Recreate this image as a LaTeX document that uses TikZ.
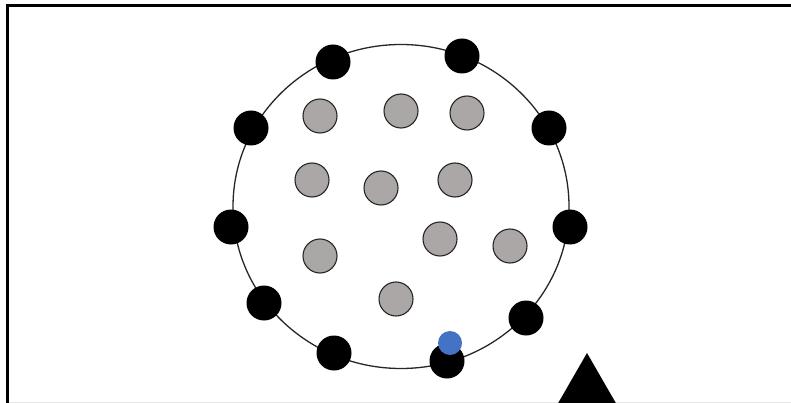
\documentclass[tikz,border=0pt]{standalone}
\usepackage{xcolor}
\usetikzlibrary{shapes.geometric}

\definecolor{beadgray}{RGB}{170,167,166}
\definecolor{beadblue}{RGB}{68,114,196}

\begin{document}
\begin{tikzpicture}[
    x=1pt, y=-1pt,
    frame/.style={draw=black, line width=3pt},
    ring/.style={ellipse, draw=black!85, line width=1.3pt, minimum width=336pt, minimum height=324pt, inner sep=0pt},
    outer/.style={circle, fill=black, minimum size=35pt, inner sep=0pt},
    inner/.style={circle, draw=black!85, line width=1.1pt, fill=beadgray, minimum size=34pt, inner sep=0pt},
    marker/.style={circle, fill=beadblue, minimum size=24pt, inner sep=0pt},
    pointer/.style={fill=black}
]
\useasboundingbox (0,0) rectangle (791,403);
\clip (0,0) rectangle (791,403);

% 1. Frame
\draw[frame] (7.5,6) -- (800,6);
\draw[frame] (7.5,4.5) -- (7.5,410);
\draw[black!10, line width=0.8pt] (9,402) -- (791,402);

% 2. Ring
\node[ring] (ring) at (401,206.5) {};

% 3. Beads on the ring
\node[outer] (b1) at (333,62) {};
\node[outer] (b2) at (462,56) {};
\node[outer] (b3) at (251,128) {};
\node[outer] (b4) at (549,128) {};
\node[outer] (b5) at (231,227) {};
\node[outer] (b6) at (570,227) {};
\node[outer] (b7) at (264,303) {};
\node[outer] (b8) at (526,318) {};
\node[outer] (b9) at (334,353) {};
\node[outer] (b10) at (447,361) {};

% 4. Beads inside
\node[inner] (g1) at (320,116) {};
\node[inner] (g2) at (401,111) {};
\node[inner] (g3) at (467,113) {};
\node[inner] (g4) at (312,180) {};
\node[inner] (g5) at (381,188) {};
\node[inner] (g6) at (455,180) {};
\node[inner] (g7) at (440,239) {};
\node[inner] (g8) at (510,246) {};
\node[inner] (g9) at (320,256) {};
\node[inner] (g10) at (396,299) {};

% 5. Blue marker
\node[marker] (tag) at (450,343) {};

% 6. Triangle
\fill[pointer] (587,353) -- (621,412) -- (553,412) -- cycle;

\end{tikzpicture}
\end{document}
